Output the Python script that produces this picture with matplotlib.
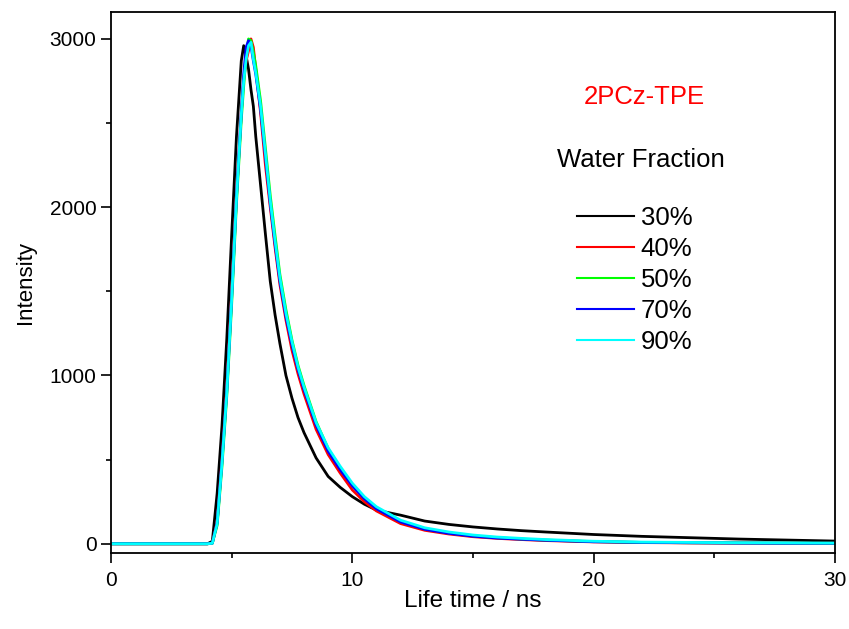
import matplotlib
matplotlib.use("Agg")
import matplotlib.pyplot as plt
from matplotlib.ticker import MultipleLocator

plt.rcParams['font.family'] = ['Liberation Sans', 'DejaVu Sans']

# --- 時間軸 (ns) ---
time_ns = [0, 4.0, 4.2, 4.4, 4.6, 4.8, 5.0, 5.2, 5.4, 5.5, 5.6, 5.7, 5.8, 5.9,
           6.0, 6.2, 6.4, 6.6, 6.8, 7.0, 7.25, 7.5, 7.75, 8.0, 8.5, 9.0, 9.5,
           10, 10.5, 11, 12, 13, 14, 15, 16, 17, 18, 20, 22, 24, 26, 28, 30]

# --- 各含水率の減衰カーブ ---
w30 = [0, 0, 15, 300, 700, 1220, 1830, 2420, 2870, 2960, 2900, 2820, 2700, 2600,
       2420, 2130, 1840, 1560, 1360, 1190, 1000, 865, 750, 660, 510, 400, 335,
       280, 235, 200, 170, 135, 115, 100, 88, 78, 70, 55, 44, 36, 28, 22, 16]
w40 = [0, 0, 4, 130, 500, 930, 1480, 2070, 2560, 2760, 2870, 2930, 3000, 2950,
       2820, 2560, 2250, 2000, 1760, 1540, 1330, 1150, 1010, 890, 680, 530, 420,
       320, 250, 195, 120, 80, 58, 42, 32, 25, 19, 11, 7, 5, 4, 3, 3]
w50 = [0, 0, 3, 110, 460, 880, 1420, 2020, 2520, 2720, 2900, 3000, 2990, 2920,
       2840, 2630, 2350, 2070, 1830, 1600, 1390, 1210, 1060, 940, 725, 565, 450,
       350, 270, 210, 132, 88, 64, 47, 36, 28, 22, 13, 8, 6, 5, 4, 3]
w70 = [0, 0, 4, 125, 490, 910, 1460, 2060, 2560, 2790, 2950, 2990, 2960, 2870,
       2790, 2580, 2300, 2020, 1780, 1560, 1350, 1180, 1035, 915, 705, 550, 440,
       345, 268, 208, 130, 86, 62, 45, 34, 27, 21, 12, 8, 6, 4, 3, 3]
w90 = [0, 0, 3, 120, 480, 900, 1450, 2050, 2550, 2750, 2880, 2960, 2980, 2880,
       2800, 2600, 2320, 2040, 1800, 1580, 1370, 1200, 1050, 930, 720, 570, 460,
       360, 280, 220, 140, 95, 70, 52, 40, 32, 25, 15, 10, 8, 6, 5, 4]

labels = ["30%", "40%", "50%", "70%", "90%"]
colors = ["black", "#ff0000", "#00ff00", "#0000ff", "#00ffff"]

# --- グラフ作成 ---
fig = plt.figure(figsize=(8.49, 6.29), dpi=100)
ax = fig.add_axes([0.1307, 0.1208, 0.8528, 0.8601])

for ys, lab, c in zip([w30, w40, w50, w70, w90], labels, colors):
    ax.plot(time_ns, ys, color=c, lw=2.0, label=lab)

ax.set_xlim(0, 30)
ax.set_ylim(-55, 3160)
ax.xaxis.set_major_locator(MultipleLocator(10))
ax.xaxis.set_minor_locator(MultipleLocator(5))
ax.yaxis.set_major_locator(MultipleLocator(1000))
ax.yaxis.set_minor_locator(MultipleLocator(500))
ax.tick_params(which='major', direction='out', length=7, width=1.2, labelsize=15,
               top=False, right=False)
ax.tick_params(axis='x', which='major', pad=6)
ax.tick_params(which='minor', direction='out', length=3.5, width=1.2,
               top=False, right=False)
for s in ax.spines.values():
    s.set_linewidth(1.3)

ax.set_xlabel("Life time / ns", fontsize=17.5, labelpad=0)
ax.set_ylabel("Intensity", fontsize=16, labelpad=10)

# --- 注釈とレジェンド ---
ax.text(22.1, 2655, "2PCz-TPE", color="red", fontsize=18.5, ha="center", va="center")
ax.text(21.95, 2281, "Water Fraction", color="black", fontsize=18.5, ha="center", va="center")
leg = ax.legend(loc="upper left", bbox_to_anchor=(577 / 849, 1 - 206 / 629),
                bbox_transform=fig.transFigure, frameon=False, fontsize=18.5,
                handlelength=2.2, handletextpad=0.28, labelspacing=0.27,
                borderpad=0, borderaxespad=0)
for h in leg.get_lines():
    h.set_linewidth(1.5)

fig.savefig("out.png", dpi=100)
